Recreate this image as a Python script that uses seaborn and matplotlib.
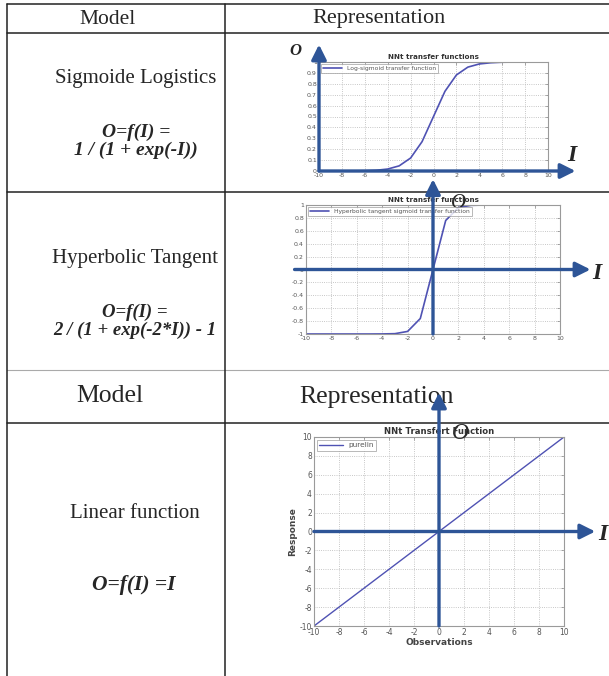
import matplotlib
matplotlib.use("Agg")
import matplotlib.pyplot as plt
import seaborn as sns

# data
x_vals = [-10, -9, -8, -7, -6, -5, -4, -3, -2, -1, 0, 1, 2, 3, 4, 5, 6, 7, 8, 9, 10]
logsig_vals = [0.0, 0.0001, 0.0003, 0.0009, 0.0025, 0.0067, 0.018, 0.047, 0.119, 0.269, 0.5,
               0.731, 0.881, 0.953, 0.982, 0.993, 0.998, 0.999, 1.0, 1.0, 1.0]
tansig_vals = [-1.0, -1.0, -1.0, -1.0, -1.0, -1.0, -0.999, -0.995, -0.96, -0.76, 0.0,
               0.76, 0.96, 0.995, 0.999, 1.0, 1.0, 1.0, 1.0, 1.0, 1.0]
purelin_vals = [-10, -9, -8, -7, -6, -5, -4, -3, -2, -1, 0, 1, 2, 3, 4, 5, 6, 7, 8, 9, 10]

x_ticks = [-10, -8, -6, -4, -2, 0, 2, 4, 6, 8, 10]
logsig_ticks = [0, 0.1, 0.2, 0.3, 0.4, 0.5, 0.6, 0.7, 0.8, 0.9, 1]
logsig_labels = ['0', '0.1', '0.2', '0.3', '0.4', '0.5', '0.6', '0.7', '0.8', '0.9', '1']
tansig_ticks = [-1, -0.8, -0.6, -0.4, -0.2, 0, 0.2, 0.4, 0.6, 0.8, 1]
tansig_labels = ['-1', '-0.8', '-0.6', '-0.4', '-0.2', '0', '0.2', '0.4', '0.6', '0.8', '1']
purelin_ticks = [-10, -8, -6, -4, -2, 0, 2, 4, 6, 8, 10]

sns.set_style("white")
plt.rcParams['font.family'] = ['DejaVu Sans']

W, H = 609, 676
fig = plt.figure(figsize=(W / 100, H / 100), dpi=100)

curve_col = '#4f52b3'
arrow_col = '#2e5597'
serif = 'Liberation Serif'


def px_axes(x0, y0, x1, y1, z):
    return fig.add_axes([x0 / W, 1 - y1 / H, (x1 - x0) / W, (y1 - y0) / H], zorder=z)


def style_matlab(ax, yticks, ylabels, title, leg, fs=4.5):
    ax.set_xlim(-10, 10)
    ax.set_xticks(x_ticks)
    ax.set_xticklabels([str(t) for t in x_ticks])
    ax.set_yticks(yticks)
    ax.set_yticklabels(ylabels)
    ax.set_ylim(yticks[0], yticks[-1])
    ax.tick_params(direction='in', top=True, right=True, length=2, width=0.5,
                   labelsize=fs, labelcolor='#555555', color='#888888', pad=1.5)
    ax.grid(True, linestyle=':', color='#b5b5b5', lw=0.6)
    for s in ax.spines.values():
        s.set_color('#9a9a9a')
        s.set_linewidth(0.8)
    ax.set_title(title, fontsize=fs + 0.6, fontweight='bold', color='#333333', pad=2)
    ax.legend(labels=[leg], loc='upper left', fontsize=fs - 0.2, frameon=True, fancybox=False,
              edgecolor='#999999', borderpad=0.3, handlelength=3.2, borderaxespad=0.4,
              labelcolor='#555555')
    ax.legend_.get_frame().set_linewidth(0.6)


def arrow(ax, start, end):
    ax.annotate('', xy=end, xytext=start, xycoords='data', annotation_clip=False,
                arrowprops=dict(arrowstyle='-|>,head_length=0.9,head_width=0.45',
                                lw=2.4, color=arrow_col, shrinkA=0, shrinkB=0,
                                mutation_scale=10), zorder=10)


# table
ax_t = fig.add_axes([0, 0, 1, 1], zorder=0)
ax_t.set_xlim(0, W)
ax_t.set_ylim(H, 0)
ax_t.axis('off')
for y in [4, 33, 192, 423]:
    ax_t.plot([7, W], [y, y], color='#222222', lw=1.1)
ax_t.plot([7, W], [370, 370], color='#aaaaaa', lw=0.8)
for x in [7, 225]:
    ax_t.plot([x, x], [4, H], color='#222222', lw=1.1)

ax_t.text(108, 19, 'Model', family=serif, fontsize=15.5, ha='center', va='center')
ax_t.text(379, 19, 'Representation', family=serif, fontsize=16, ha='center', va='center')
ax_t.text(110, 396, 'Model', family=serif, fontsize=18.5, ha='center', va='center')
ax_t.text(377, 397, 'Representation', family=serif, fontsize=18.5, ha='center', va='center')

ax_t.text(136, 78, 'Sigmoide Logistics', family=serif, fontsize=15, ha='center', va='center')
ax_t.text(136, 132, 'O=f(I) =', family=serif, fontsize=14, fontweight='bold',
          fontstyle='italic', ha='center', va='center')
ax_t.text(136, 150, '1 / (1 + exp(-I))', family=serif, fontsize=14, fontweight='bold',
          fontstyle='italic', ha='center', va='center')

ax_t.text(135, 258, 'Hyperbolic Tangent', family=serif, fontsize=15, ha='center', va='center')
ax_t.text(135, 312, 'O=f(I) =', family=serif, fontsize=13.5, fontweight='bold',
          fontstyle='italic', ha='center', va='center')
ax_t.text(135, 330, '2 / (1 + exp(-2*I)) - 1', family=serif, fontsize=13.5, fontweight='bold',
          fontstyle='italic', ha='center', va='center')

ax_t.text(135, 513, 'Linear function', family=serif, fontsize=15, ha='center', va='center')
ax_t.text(134, 585, 'O=f(I) =I', family=serif, fontsize=15.5, fontweight='bold',
          fontstyle='italic', ha='center', va='center')

# plot 1: log-sigmoid
ax1 = px_axes(319, 62, 548, 171, 1)
sns.lineplot(x=x_vals, y=logsig_vals, ax=ax1, color=curve_col, lw=1.2)
style_matlab(ax1, logsig_ticks, logsig_labels, 'NNt transfer functions',
             'Log-sigmoid transfer function')
arrow(ax1, (-10, 0), (-10, 1.16))
arrow(ax1, (-10, 0), (12.4, 0))
ax1.text(-12.1, 1.1, 'O', family=serif, fontsize=12, fontweight='bold', fontstyle='italic',
         ha='center', va='center')
ax1.text(12.1, 0.14, 'I', family=serif, fontsize=17, fontweight='bold', fontstyle='italic',
         ha='center', va='center')

# plot 2: tan-sigmoid
ax2 = px_axes(306, 205, 560, 334, 2)
sns.lineplot(x=x_vals, y=tansig_vals, ax=ax2, color=curve_col, lw=1.2)
style_matlab(ax2, tansig_ticks, tansig_labels, 'NNt transfer functions',
             'Hyperbolic tangent sigmoid transfer function')
arrow(ax2, (0, -1), (0, 1.4))
arrow(ax2, (-10.9, 0), (12.4, 0))
ax2.text(2.0, 1.02, 'O', family=serif, fontsize=15, fontstyle='italic',
         ha='center', va='center')
ax2.text(12.9, -0.06, 'I', family=serif, fontsize=17, fontweight='bold', fontstyle='italic',
         ha='center', va='center')

# plot 3: purelin
ax3 = px_axes(314, 437, 564, 626, 3)
sns.lineplot(x=x_vals, y=purelin_vals, ax=ax3, color=curve_col, lw=1.0)
style_matlab(ax3, purelin_ticks, [str(t) for t in purelin_ticks], 'NNt Transfert Function',
             'purelin', fs=5.5)
ax3.set_xlabel('Observations', fontsize=6.5, fontweight='bold', color='#444444', labelpad=1)
ax3.set_ylabel('Response', fontsize=6.5, fontweight='bold', color='#444444', labelpad=2)
arrow(ax3, (0, -10), (0, 14.7))
arrow(ax3, (-10, 0), (12.5, 0))
ax3.text(1.7, 10.4, 'O', family=serif, fontsize=17, fontstyle='italic',
         ha='center', va='center')
ax3.text(13.1, -0.3, 'I', family=serif, fontsize=17, fontweight='bold', fontstyle='italic',
         ha='center', va='center')

fig.savefig('out.png', dpi=100, facecolor='white')
